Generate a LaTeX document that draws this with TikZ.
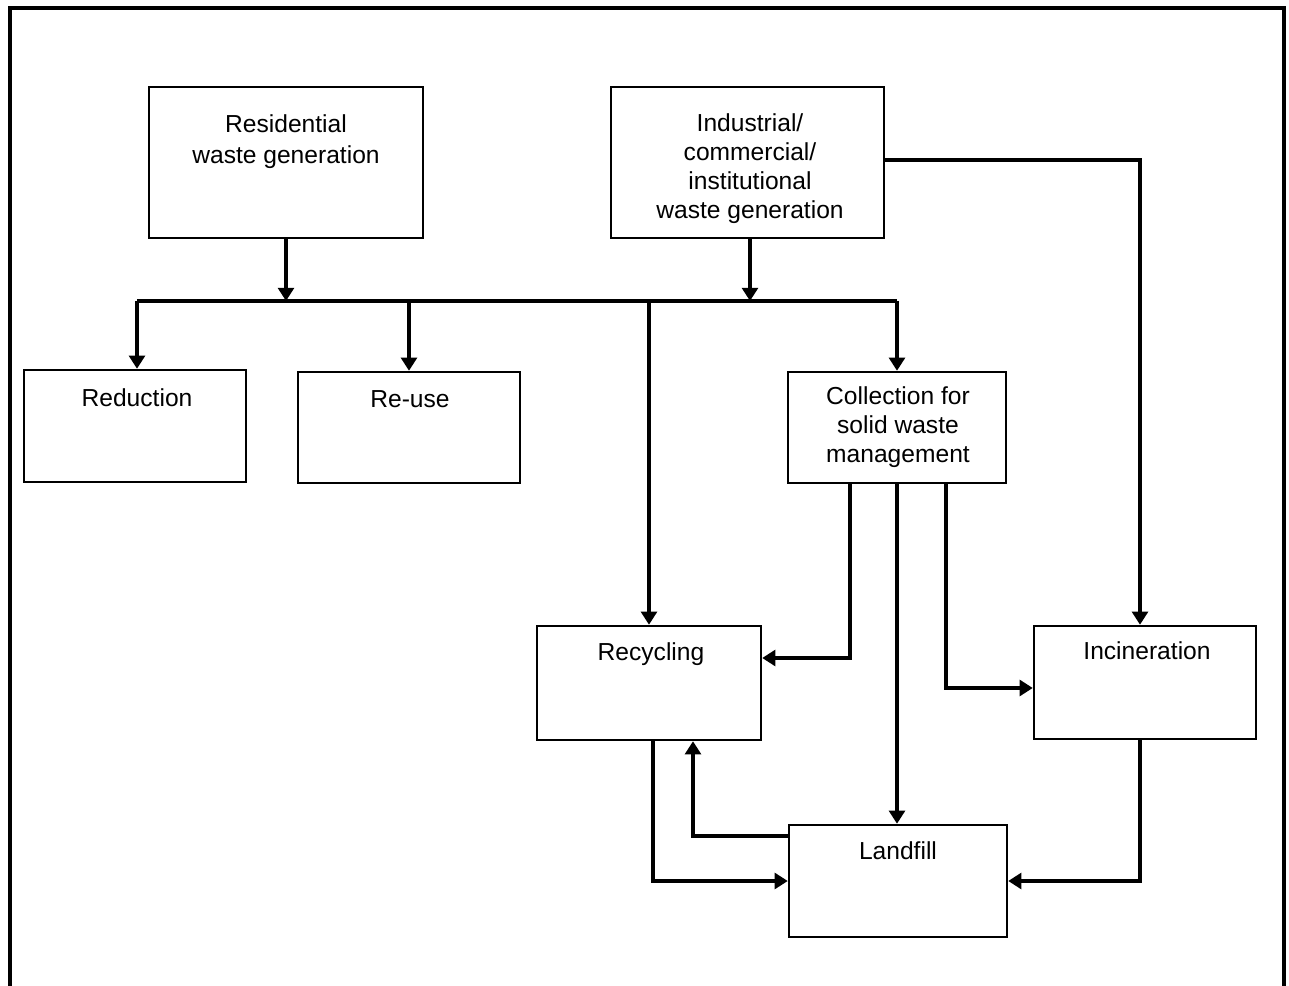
\documentclass[tikz,border=0pt]{standalone}
\usepackage{fontspec}
\setmainfont{Liberation Sans}
\usetikzlibrary{arrows.meta}

\begin{document}
\begin{tikzpicture}[x=0.02cm,y=-0.02cm,
	box/.style={draw,line width=1.4pt,inner sep=0pt},
	txt/.style={align=center,inner sep=0pt,font=\fontsize{14}{16.5}\selectfont},
	flow/.style={line width=2.6pt,-{Triangle[length=7.5pt,width=9pt]}},
	busline/.style={line width=2.6pt}]
	\useasboundingbox (0,0) rectangle (1289,986);
	\draw[line width=2pt] (10,986) -- (10,8) -- (1284,8) -- (1284,986);
	% boxes
	\node[box,minimum width=5.48cm,minimum height=3.02cm] (resid) at (286,162.5) {};
	\node[box,minimum width=5.46cm,minimum height=3.02cm] (indus) at (747.5,162.5) {};
	\node[box,minimum width=4.44cm,minimum height=2.24cm] (reduc) at (135,426) {};
	\node[box,minimum width=4.44cm,minimum height=2.22cm] (reuse) at (409,427.5) {};
	\node[box,minimum width=4.36cm,minimum height=2.22cm] (collect) at (897,427.5) {};
	\node[box,minimum width=4.48cm,minimum height=2.28cm] (recyc) at (649,683) {};
	\node[box,minimum width=4.44cm,minimum height=2.26cm] (incin) at (1145,682.5) {};
	\node[box,minimum width=4.36cm,minimum height=2.24cm] (landf) at (898,881) {};
	% texts
	\node[txt] (resid-t) at (286,142) {Residential\\[1pt]waste generation};
	\node[txt] (indus-t) at (750,169) {Industrial/\\commercial/\\institutional\\waste generation};
	\node[txt] (reduc-t) at (137,398) {Reduction};
	\node[txt] (reuse-t) at (410,399) {Re-use};
	\node[txt] (collect-t) at (898,427) {Collection for\\solid waste\\management};
	\node[txt] (recyc-t) at (651,654) {Recycling};
	\node[txt] (incin-t) at (1147,651) {Incineration};
	\node[txt] (landf-t) at (898,851) {Landfill};
	% bus
	\coordinate (bus-l) at (137,301);
	\coordinate (bus-r) at (897,301);
	\draw[busline] (bus-l) -- (bus-r);
	\draw[flow] (resid.south) -- (resid.south |- bus-l);
	\draw[flow] ([xshift=0.05cm]indus.south) -- ([xshift=0.05cm]indus.south |- bus-l);
	\draw[flow] (bus-l) -- (bus-l |- reduc.north);
	\draw[flow] (reuse.north |- bus-l) -- (reuse.north);
	\draw[flow] (recyc.north |- bus-l) -- (recyc.north);
	\draw[flow] (bus-r) -- (collect.north);
	% other flows
	\draw[flow] ([yshift=0.05cm]indus.east) -| ([xshift=-0.1cm]incin.north);
	\draw[flow] ([xshift=-0.94cm]collect.south) |- ([yshift=0.5cm]recyc.east);
	\draw[flow] (collect.south) -- (collect.south |- landf.north);
	\draw[flow] ([xshift=0.98cm]collect.south) |- ([yshift=-0.11cm]incin.west);
	\draw[flow] ([xshift=0.08cm]recyc.south) |- (landf.west);
	\draw[flow] ([yshift=0.9cm]landf.west) -| ([xshift=0.88cm]recyc.south);
	\draw[flow] ([xshift=-0.1cm]incin.south) |- (landf.east);
\end{tikzpicture}
\end{document}
